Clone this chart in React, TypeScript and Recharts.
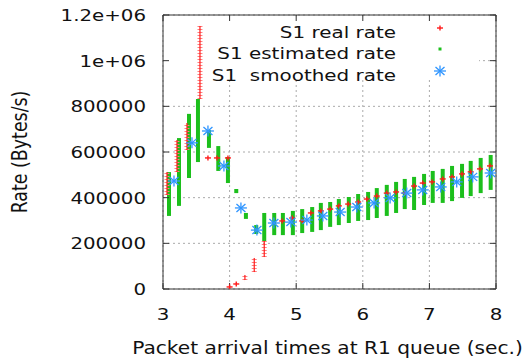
import { ScatterChart, Scatter, XAxis, YAxis, CartesianGrid, ErrorBar, ReferenceArea } from 'recharts';

const X_TICKS = [3, 4, 5, 6, 7, 8];
const Y_TICKS = [0, 200000, 400000, 600000, 800000, 1000000, 1200000];
const Y_TICK_LABELS = ['0', '200000', '400000', '600000', '800000', '1e+06', '1.2e+06'];

const LEGEND_LABELS = ['S1 real rate', 'S1 estimated rate', 'S1  smoothed rate'];

// [time, low, high] of each cluster of estimated-rate samples
const estimatedRanges: [number, number, number][] = [
    [3.09, 320000, 512000], [3.24, 364000, 661000], [3.39, 486000, 767000], [3.525, 556000, 832000],
    [3.69, 618000, 696000], [3.83, 517000, 626000], [3.975, 464000, 578000], [4.1, 420000, 438000],
    [4.245, 307000, 333000], [4.4, 241000, 280000], [4.52, 210000, 333000], [4.67, 236000, 333000],
    [4.8, 236000, 333000], [4.95, 236000, 342000], [5.09, 245000, 350000], [5.24, 250000, 359000],
    [5.37, 258000, 377000], [5.51, 272000, 381000], [5.64, 280000, 394000], [5.79, 289000, 403000],
    [5.93, 298000, 416000], [6.08, 302000, 425000], [6.21, 311000, 442000], [6.36, 320000, 456000],
    [6.5, 333000, 469000], [6.63, 350000, 482000], [6.77, 346000, 491000], [6.92, 368000, 504000],
    [7.05, 377000, 517000], [7.2, 377000, 526000], [7.34, 385000, 539000], [7.49, 399000, 548000],
    [7.62, 407000, 561000], [7.77, 420000, 574000], [7.92, 434000, 587000],
];

// [time, low, high] of stacked real-rate samples
const realRanges: [number, number, number][] = [
    [3.06, 412000, 512000], [3.21, 512000, 653000], [3.36, 609000, 727000], [3.555, 832000, 1152000],
    [4.23, 39000, 61000], [4.37, 74000, 136000], [4.52, 140000, 210000],
];

const realPoints: [number, number][] = [
    [3.675, 574000], [3.81, 574000], [3.975, 574000], [4.0, 9000], [4.1, 22000],
    [4.79, 298000], [4.94, 311000], [5.09, 298000], [5.22, 333000], [5.37, 342000],
    [5.51, 350000], [5.64, 364000], [5.78, 372000], [5.93, 381000], [6.06, 394000],
    [6.21, 407000], [6.36, 420000], [6.5, 425000], [6.63, 420000], [6.77, 451000],
    [6.9, 464000], [7.04, 469000], [7.2, 482000], [7.34, 491000], [7.49, 504000],
    [7.62, 513000], [7.76, 526000], [7.91, 539000],
];

const smoothedPoints: [number, number][] = [
    [3.165, 473000], [3.435, 640000], [3.675, 692000], [3.915, 539000], [4.17, 355000],
    [4.41, 258000], [4.665, 289000], [4.92, 293000], [5.16, 302000], [5.4, 320000],
    [5.66, 337000], [5.91, 359000], [6.17, 377000], [6.41, 399000], [6.66, 420000],
    [6.9, 434000], [7.17, 447000], [7.41, 469000], [7.65, 491000], [7.92, 508000],
];

const FONT = 'DejaVu Sans';
const TEXT = '#111';
const STRETCH = 1.2;
const RED = '#ff1a1a';
const GREEN = '#1cbf1c';
const BLUE = '#2f95ff';

const toRange = (rows: [number, number, number][]) =>
    rows.map(([x, lo, hi]) => ({ x, y: (lo + hi) / 2, err: (hi - lo) / 2 }));
const toPoints = (rows: [number, number][]) => rows.map(([x, y]) => ({ x, y }));

const estimatedData = toRange(estimatedRanges);
const realRangeData = toRange(realRanges);
const realData = toPoints(realPoints);
const smoothedData = toPoints(smoothedPoints);

const textStyle = { fontFamily: FONT, fontSize: 16.5, fill: TEXT };

const Hidden = () => <g />;

const Plus = ({ cx, cy }: any) => (
    <g stroke={RED} strokeWidth={1.4}>
        <line x1={cx - 3} y1={cy} x2={cx + 3} y2={cy} />
        <line x1={cx} y1={cy - 2.5} x2={cx} y2={cy + 2.5} />
    </g>
);

const Star = ({ cx, cy }: any) => (
    <g stroke={BLUE} strokeWidth={1.3}>
        <line x1={cx - 6} y1={cy} x2={cx + 6} y2={cy} />
        <line x1={cx} y1={cy - 5.5} x2={cx} y2={cy + 5.5} />
        <line x1={cx - 4.5} y1={cy - 4} x2={cx + 4.5} y2={cy + 4} />
        <line x1={cx - 4.5} y1={cy + 4} x2={cx + 4.5} y2={cy - 4} />
    </g>
);

const renderXTick = ({ x, y, payload }: any) => (
    <g transform={`translate(${x},${y})`}>
        <text transform={`scale(${STRETCH},1)`} textAnchor="middle" dy="0.71em" style={textStyle}>
            {payload.value}
        </text>
    </g>
);

const renderYTick = ({ x, y, payload }: any) => (
    <g transform={`translate(${x},${y})`}>
        <text transform={`scale(${STRETCH},1)`} textAnchor="end" dy="0.355em" style={textStyle}>
            {Y_TICK_LABELS[Y_TICKS.indexOf(payload.value)]}
        </text>
    </g>
);

const XTitle = ({ viewBox }: any) => (
    <g transform={`translate(${viewBox.x + viewBox.width / 2 - 2},${viewBox.y + 65})`}>
        <text transform={`scale(${STRETCH},1)`} textAnchor="middle" style={{ ...textStyle, fontSize: 16.8 }}>
            Packet arrival times at R1 queue (sec.)
        </text>
    </g>
);

const YTitle = () => (
    <g transform="translate(20,152)">
        <text transform={`scale(${STRETCH},1) rotate(-90)`} textAnchor="middle" dy="0.35em"
            style={{ ...textStyle, fontSize: 17.4 }}>
            Rate (Bytes/s)
        </text>
    </g>
);

function LegendOverlay() {
    const rows = [28, 49, 71];
    return (
        <svg width={526} height={358} style={{ position: 'absolute', left: 0, top: 0, pointerEvents: 'none' }}>
            {LEGEND_LABELS.map((label, i) => (
                <g key={label} transform={`translate(396,${rows[i] + 10})`}>
                    <text transform={`scale(${STRETCH},1)`} textAnchor="end"
                        style={{ ...textStyle, fontSize: 16.6, whiteSpace: 'pre' }}>
                        {label}
                    </text>
                </g>
            ))}
            <Plus cx={440} cy={rows[0]} />
            <rect x={438.5} y={rows[1] - 1.5} width={3} height={3} fill={GREEN} />
            <Star cx={440} cy={rows[2]} />
        </svg>
    );
}

export default function App() {
    return (
        <div style={{ position: 'absolute', left: 0, top: 0, width: 526, height: 358, background: '#fff' }}>
            <ScatterChart width={526} height={358} margin={{ top: 0, right: 0, bottom: 0, left: 0 }}>
                <CartesianGrid stroke="#aaa" strokeDasharray="2 3" />
                <ReferenceArea x1={3.01} x2={7.745} y1={915000} y2={1195000} fill="#fff" fillOpacity={1} stroke="none" />
                <XAxis dataKey="x" type="number" domain={[3, 8]} ticks={X_TICKS} allowDataOverflow
                    height={69} tickSize={-6} tickMargin={25} stroke="#333" tick={renderXTick}
                    label={<XTitle />} />
                <XAxis xAxisId="top" orientation="top" dataKey="x" type="number" domain={[3, 8]} ticks={X_TICKS}
                    allowDataOverflow height={15} tickSize={-6} stroke="#333" tickFormatter={() => ''} />
                <YAxis dataKey="y" type="number" domain={[0, 1200000]} ticks={Y_TICKS} allowDataOverflow
                    width={163} tickSize={-6} tickMargin={23} stroke="#333" tick={renderYTick}
                    label={<YTitle />} />
                <YAxis yAxisId="right" orientation="right" dataKey="y" type="number" domain={[0, 1200000]}
                    ticks={Y_TICKS} allowDataOverflow width={30} tickSize={-6} stroke="#333" tickFormatter={() => ''} />
                <Scatter data={estimatedData} shape={<Hidden />} isAnimationActive={false}>
                    <ErrorBar dataKey="err" direction="y" width={0} stroke={GREEN} strokeWidth={4} />
                </Scatter>
                <Scatter data={realRangeData} shape={<Hidden />} isAnimationActive={false}>
                    <ErrorBar dataKey="err" direction="y" width={0} stroke="#ff8080" strokeWidth={5} strokeDasharray="1 2" />
                    <ErrorBar dataKey="err" direction="y" width={0} stroke={RED} strokeWidth={1.2} />
                </Scatter>
                <Scatter data={realData} shape={<Plus />} isAnimationActive={false} />
                <Scatter data={smoothedData} shape={<Star />} isAnimationActive={false} />
            </ScatterChart>
            <LegendOverlay />
        </div>
    );
}
